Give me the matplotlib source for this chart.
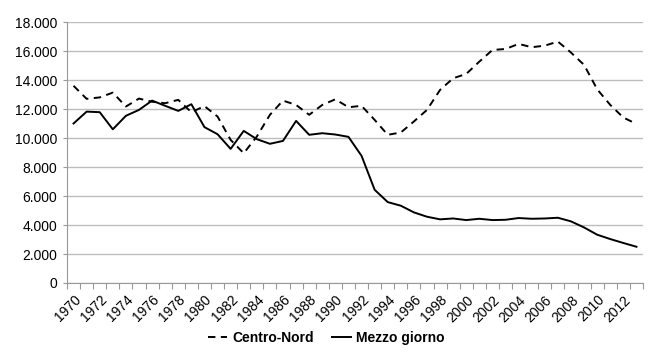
import numpy as np
import matplotlib.pyplot as plt
from matplotlib.ticker import FuncFormatter

years = list(range(1970, 2014))

centro_nord = [13600, 12700, 12800, 13130, 12170, 12720, 12500, 12400, 12630, 11780,
               12200, 11480, 9870, 8950, 10100, 11600, 12580, 12280, 11600, 12280,
               12670, 12120, 12220, 11250, 10220, 10380, 11140, 11940, 13320, 14120,
               14420, 15270, 16070, 16140, 16490, 16260, 16370, 16650, 15890, 15040,
               13360, 12280, 11410, 10970]

mezzogiorno = [11000, 11820, 11780, 10600, 11530, 11940, 12580, 12220, 11870, 12330,
               10750, 10260, 9250, 10490, 9920, 9600, 9800, 11180, 10220, 10330,
               10240, 10080, 8770, 6430, 5580, 5330, 4870, 4570, 4390, 4450,
               4340, 4430, 4340, 4360, 4480, 4430, 4450, 4500, 4250, 3830,
               3330, 3030, 2760, 2500]

plt.rcParams['font.family'] = ['Liberation Sans', 'DejaVu Sans']


def main():
    fig = plt.figure(figsize=(6.6, 3.53), dpi=100)
    ax = fig.add_axes([67 / 660, 1 - 283 / 353, 576 / 660, 261 / 353])

    x = np.arange(len(years))
    l1, = ax.plot(x, centro_nord, color='black', lw=1.4, ls=(0, (3.8, 2.8)))
    l2, = ax.plot(x, mezzogiorno, color='black', lw=1.4)

    ax.set_xlim(-0.5, len(years) - 0.5)
    ax.set_ylim(0, 18000)
    ax.set_yticks(np.arange(0, 18001, 2000))
    ax.yaxis.set_major_formatter(FuncFormatter(lambda v, p: f'{int(v):,}'.replace(',', '.')))
    ax.grid(axis='y', color='#bdbdbd', lw=1)
    ax.set_axisbelow(True)

    ax.set_xticks(x[::2])
    ax.set_xticklabels([str(y) for y in years[::2]], rotation=45, ha='right',
                       va='top', rotation_mode='anchor')
    ax.set_xticks(np.arange(-0.5, len(years), 1), minor=True)
    ax.tick_params(axis='x', which='major', length=0, pad=7, labelsize=10, colors='black')
    ax.tick_params(axis='x', which='minor', length=4, color='#999999', width=0.8)
    ax.tick_params(axis='y', length=3, color='#999999', labelsize=10, pad=4)

    for s in ['top', 'right']:
        ax.spines[s].set_visible(False)
    ax.spines['left'].set_color('#999999')
    ax.spines['bottom'].set_color('#999999')

    fig.legend([l1, l2], ['Centro-Nord', 'Mezzo giorno'], loc='center',
               bbox_to_anchor=(326 / 660, 1 - 338 / 353), ncol=2, frameon=False,
               prop={'weight': 'bold', 'size': 10},
               handlelength=1.4, handletextpad=0.35, columnspacing=1.3)

    fig.savefig('out.png', dpi=100)


main()
